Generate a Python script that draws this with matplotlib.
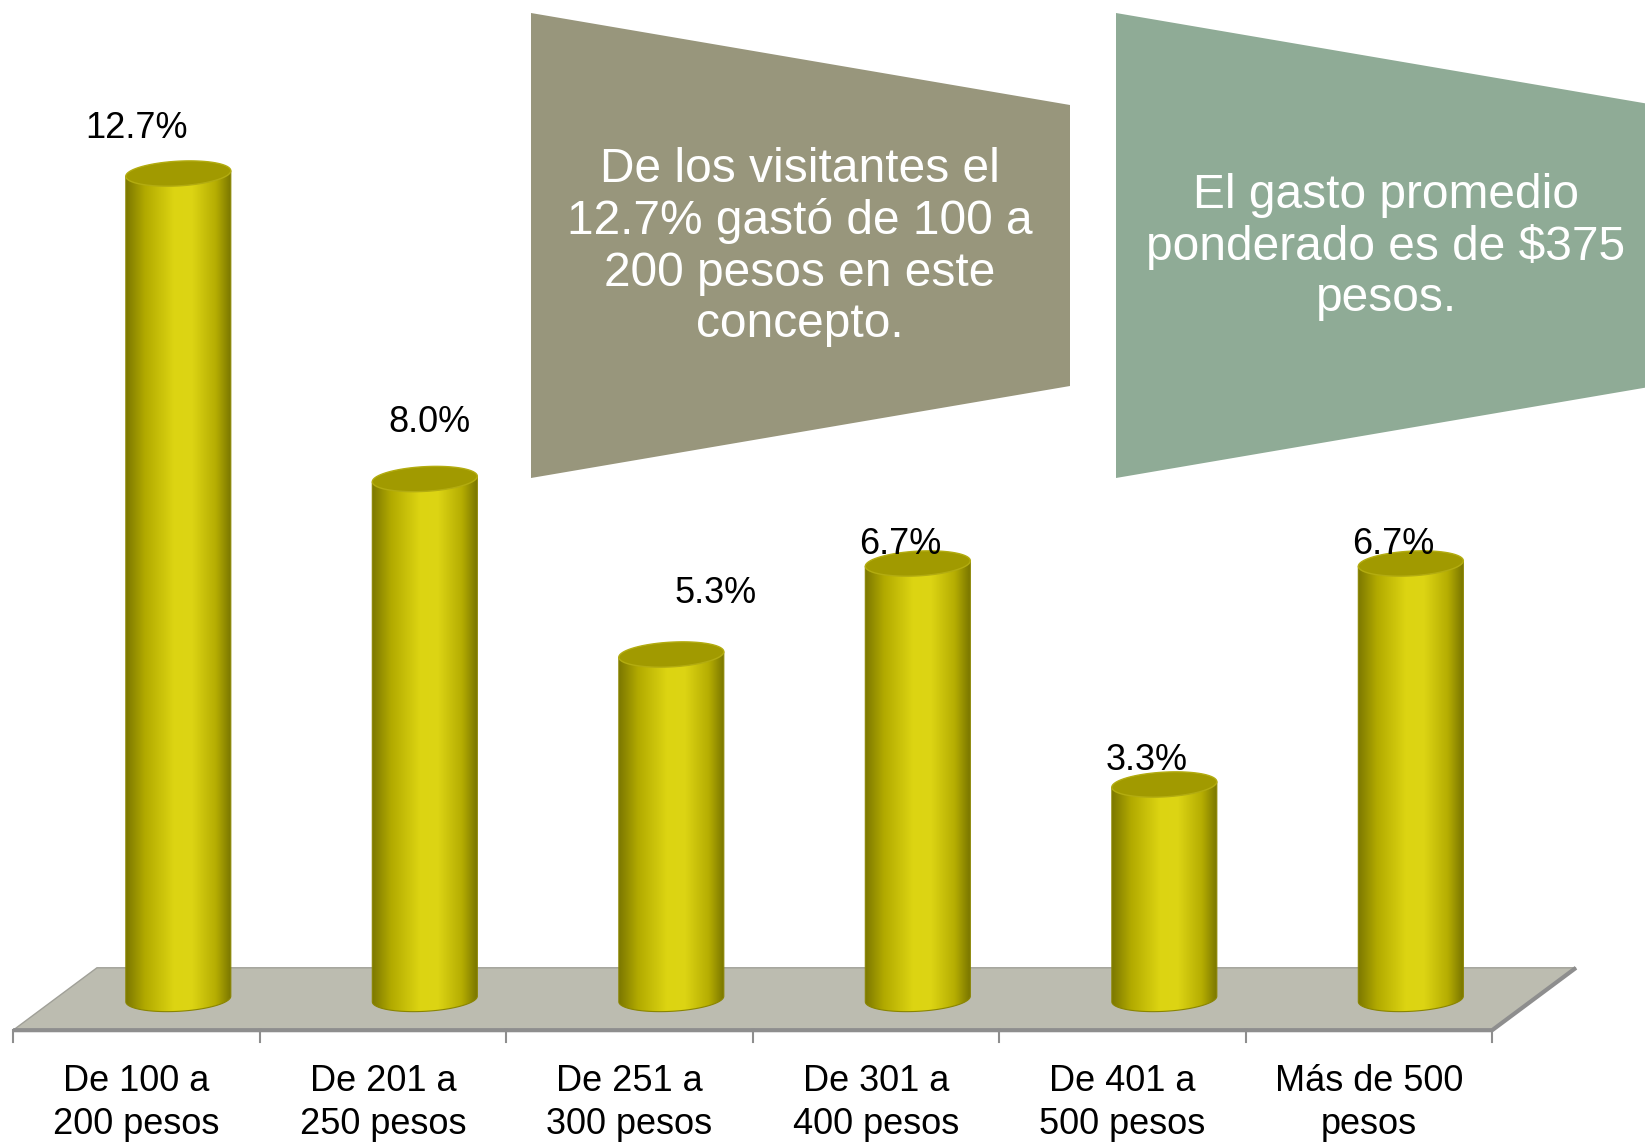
import numpy as np
import matplotlib
matplotlib.use('Agg')
import matplotlib.pyplot as plt
from matplotlib.patches import Polygon
from matplotlib.colors import LinearSegmentedColormap

categories = ['De 100 a\n200 pesos', 'De 201 a\n250 pesos', 'De 251 a\n300 pesos',
              'De 301 a\n400 pesos', 'De 401 a\n500 pesos', 'Más de 500\npesos']
values = [12.7, 8.0, 5.3, 6.7, 3.3, 6.7]
value_labels = ['12.7%', '8.0%', '5.3%', '6.7%', '3.3%', '6.7%']
note_left = 'De los visitantes el\n12.7% gastó de 100 a\n200 pesos en este\nconcepto.'
note_right = 'El gasto promedio\nponderado es de $375\npesos.'

# nudges of the value labels (pixels), as placed in the original slide
label_dx = [-42, 5, 44, -18, -18, -18]
label_dy = [45, 57, 61, 19, 24, 19]

plt.rcParams['font.family'] = ['Liberation Sans', 'DejaVu Sans']

W, H = 1645, 1146
fig = plt.figure(figsize=(W / 100, H / 100), dpi=100)
ax = fig.add_axes([0, 0, 1, 1])
ax.set_axis_off()

n = len(values)
depth = 0.17   # half the depth shift of the floor, in category units
fy = 0.48      # half the floor depth, in value units

# floor
floor = [(-0.5 - depth, -fy), (n - 0.5 - depth, -fy), (n - 0.5 + depth, fy), (-0.5 + depth, fy)]
ax.add_patch(Polygon(floor, closed=True, fc='#BCBCB0', ec='#A0A098', lw=1, zorder=1))
ax.plot([-0.5 - depth, n - 0.5 - depth, n - 0.5 + depth], [-fy, -fy, fy],
        color='#8E8E8E', lw=3, zorder=2, solid_capstyle='butt')
for k in range(n + 1):
    ax.plot([k - 0.5 - depth] * 2, [-fy, -0.66], color='#8E8E8E', lw=1.5, zorder=2)

# cylinders
cmap = LinearSegmentedColormap.from_list(
    'cyl', [(0, '#7C7800'), (0.18, '#B2AA00'), (0.45, '#DCD412'),
            (0.62, '#DDD514'), (0.85, '#B5AD02'), (1, '#777300')])
grad = np.linspace(0, 1, 256).reshape(1, -1)
hw, eh, tilt = 0.213, 0.19, 0.2
t = np.linspace(0, 2 * np.pi, 120)
tb = np.linspace(np.pi, 2 * np.pi, 60)
for i, v in enumerate(values):
    bx = i + hw * np.cos(tb)
    by = eh * np.sin(tb) + tilt * (bx - i)
    body = np.vstack([np.column_stack([bx, by]),
                      [[i + hw, v + tilt * hw], [i - hw, v - tilt * hw]]])
    clip = Polygon(body, closed=True, fc='none', ec='#8A8500', lw=0.8, zorder=3.5)
    ax.add_patch(clip)
    im = ax.imshow(grad, cmap=cmap, extent=[i - hw, i + hw, -0.6, v + 0.4],
                   aspect='auto', zorder=3, interpolation='bicubic')
    im.set_clip_path(clip)
    cx = i + hw * np.cos(t)
    cy = v + eh * np.sin(t) + tilt * (cx - i)
    ax.fill(cx, cy, fc='#A19A00', ec='#B3AC10', lw=1, zorder=4)

for i, v in enumerate(values):
    ax.annotate(value_labels[i], (i, v), xytext=(label_dx[i] * 0.72, label_dy[i] * 0.72),
                textcoords='offset points', ha='center', va='center', fontsize=26, zorder=6)

for i, c in enumerate(categories):
    ax.text(i - depth, -1.0, c, ha='center', va='top', fontsize=26, linespacing=1.3)

ax.set_xlim(-0.7233, 5.950)
ax.set_ylim(-2.262, 15.37)

# callout shapes
def callout(pts, color):
    ax.add_patch(Polygon([(x / W, 1 - y / H) for x, y in pts], closed=True,
                         transform=fig.transFigure, fc=color, ec='none', zorder=0.5))

callout([(531, 13), (1070, 105), (1070, 386), (531, 478)], '#98967C')
callout([(1116, 13), (1655, 105), (1655, 386), (1116, 478)], '#8FAB96')
fig.text(800 / W, 1 - 247 / H, note_left, ha='center', va='center', fontsize=34.5,
         color='white', linespacing=1.18)
fig.text(1386 / W, 1 - 247 / H, note_right, ha='center', va='center', fontsize=34.5,
         color='white', linespacing=1.18)

fig.savefig('out.png', dpi=100)
